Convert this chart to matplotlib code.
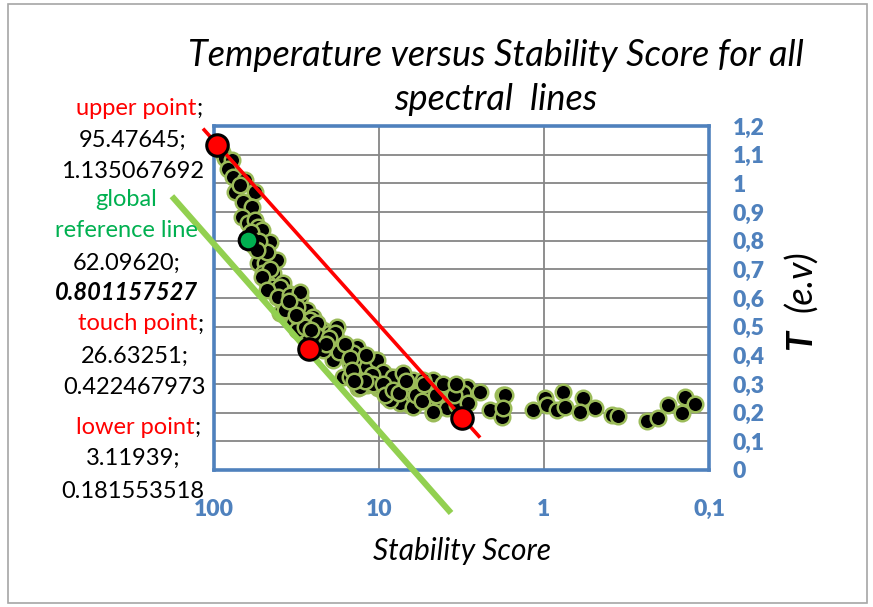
import matplotlib
matplotlib.use('Agg')
import matplotlib.pyplot as plt
from matplotlib.patches import Rectangle

plt.rcParams['font.family'] = ['Lato', 'DejaVu Sans']

# ---------------- data ----------------
stability = [89.4, 85.8, 77.8, 82.0, 76.7, 64.9, 74.6, 70.0, 56.4, 66.7, 58.9, 67.7,
             62.2, 56.4, 54.1, 51.2, 60.0, 45.8, 52.6, 57.0, 54.1, 49.1, 41.5, 43.9,
             50.5, 47.7, 38.2, 41.5, 35.6, 33.2, 30.1, 31.4, 27.3, 25.1, 36.1, 46.0,
             44.0, 40.0, 48.0, 53.0, 39.8, 54.9, 51.2, 39.8, 47.7, 40.9, 34.6, 30.1,
             31.4, 37.1, 28.9, 33.2, 23.8, 21.8, 19.8, 18.0, 18.0, 27.3, 26.2, 18.5,
             22.8, 19.0, 16.5, 13.6, 15.0, 12.7, 10.6, 13.6, 11.3, 9.86, 11.8, 13.4,
             10.2, 8.58, 7.78, 6.95, 8.58, 7.46, 6.49, 16.5, 30.1, 23.8, 27.3, 31.4,
             17.2, 20.7, 14.4, 19.0, 13.0, 11.8, 10.3, 15.0, 13.0, 9.86, 8.96, 8.96,
             7.16, 7.78, 6.76, 6.22, 5.65, 5.12, 4.71, 4.91, 4.71, 4.27, 3.87, 3.72,
             3.23, 2.93, 2.93, 2.44, 1.85, 9.46, 8.22, 7.16, 5.41, 5.88, 4.91, 3.72,
             3.10, 1.77, 7.46, 6.22, 4.27, 3.87, 4.71, 3.37, 2.89, 2.12, 8.58, 1.80,
             1.72, 1.77, 1.17, 0.986, 0.96, 0.834, 0.767, 0.75, 0.58, 0.605, 0.49,
             0.388, 0.356, 0.238, 0.204, 0.177, 0.14, 0.146, 0.122,
             28.0, 24.0, 22.0, 20.0, 17.5, 16.0, 15.0, 14.5, 12.0, 11.0, 10.8, 9.5,
             9.2, 8.2, 7.6, 6.9, 6.0, 5.5, 5.3, 4.5, 4.1, 3.5, 3.4, 12.2, 14.2, 35.0,
             32.0, 26.0, 21.0]
temperature = [1.109, 1.088, 1.081, 1.050, 1.022, 1.012, 0.970, 0.995, 0.970, 0.935, 0.917, 0.882,
               0.862, 0.872, 0.848, 0.837, 0.830, 0.795, 0.757, 0.780, 0.722, 0.722, 0.732, 0.687,
               0.687, 0.652, 0.652, 0.603, 0.617, 0.582, 0.603, 0.558, 0.558, 0.534, 0.558, 0.700,
               0.640, 0.620, 0.760, 0.800, 0.548, 0.767, 0.673, 0.638, 0.628, 0.603, 0.610, 0.621,
               0.569, 0.558, 0.523, 0.513, 0.488, 0.488, 0.478, 0.499, 0.453, 0.453, 0.523, 0.478,
               0.453, 0.429, 0.401, 0.429, 0.373, 0.366, 0.384, 0.331, 0.338, 0.314, 0.296, 0.286,
               0.286, 0.324, 0.303, 0.296, 0.255, 0.244, 0.227, 0.324, 0.513, 0.513, 0.478, 0.488,
               0.429, 0.429, 0.408, 0.384, 0.373, 0.359, 0.384, 0.324, 0.290, 0.290, 0.324, 0.255,
               0.290, 0.269, 0.255, 0.314, 0.279, 0.290, 0.314, 0.255, 0.199, 0.220, 0.279, 0.234,
               0.269, 0.290, 0.234, 0.272, 0.199, 0.342, 0.324, 0.338, 0.314, 0.269, 0.279, 0.286,
               0.269, 0.262, 0.234, 0.220, 0.244, 0.216, 0.202, 0.227, 0.234, 0.209, 0.244, 0.185,
               0.262, 0.216, 0.209, 0.251, 0.227, 0.209, 0.272, 0.220, 0.251, 0.202, 0.216,
               0.192, 0.188, 0.171, 0.181, 0.227, 0.255, 0.199, 0.230,
               0.500, 0.470, 0.420, 0.460, 0.410, 0.440, 0.390, 0.350, 0.400, 0.330, 0.300, 0.300,
               0.260, 0.280, 0.270, 0.310, 0.260, 0.240, 0.300, 0.260, 0.300, 0.260, 0.300, 0.310, 0.310, 0.590,
               0.540, 0.490, 0.440]

key_names = ['upper point', 'global reference line', 'touch point', 'lower point']
key_x = [95.47645, 62.09620, 26.63251, 3.11939]
key_y = [1.135067692, 0.801157527, 0.422467973, 0.181553518]
key_x_text = ['95.47645;', '62.09620;', '26.63251;', '3.11939;']
key_y_text = ['1.135067692', '0.801157527', '0.422467973', '0.181553518']

red_line_x = [116.6, 2.44]
red_line_y = [1.191, 0.113]
green_line_x = [180.0, 3.66]
green_line_y = [0.955, -0.15]

x_ticks = [100, 10, 1, 0.1]
x_tick_labels = ['100', '10', '1', '0,1']
y_ticks = [0, 0.1, 0.2, 0.3, 0.4, 0.5, 0.6, 0.7, 0.8, 0.9, 1.0, 1.1, 1.2]
y_tick_labels = ['0', '0,1', '0,2', '0,3', '0,4', '0,5', '0,6', '0,7', '0,8', '0,9', '1', '1,1', '1,2']

title_lines = ['Temperature versus Stability Score for all', 'spectral  lines']
x_label = 'Stability Score'

# ---------------- figure ----------------
W, H = 873, 607
fig = plt.figure(figsize=(W / 100, H / 100), dpi=100)
fig.patch.set_facecolor('white')
fig.add_artist(Rectangle((8 / W, 4 / H), (W - 14) / W, (H - 8) / H, transform=fig.transFigure,
                         fill=False, edgecolor='#A6A6A6', lw=1.2))

ax = fig.add_axes([214 / W, (H - 470) / H, 495 / W, 344 / H])
ax.set_xscale('log')
ax.set_xlim(100, 0.1)
ax.set_ylim(0, 1.2)

ax.set_xticks(x_ticks)
ax.set_xticklabels(x_tick_labels)
ax.xaxis.set_minor_locator(matplotlib.ticker.NullLocator())
ax.set_yticks(y_ticks)
ax.set_yticklabels(y_tick_labels)
ax.yaxis.tick_right()
ax.tick_params(axis='both', length=0, labelsize=16.5, labelcolor='#4F81BD')
ax.tick_params(axis='x', pad=21)
ax.tick_params(axis='y', pad=17)
for lab in ax.get_xticklabels() + ax.get_yticklabels():
    lab.set_fontweight('heavy')
for lab in ax.get_yticklabels():
    lab.set_horizontalalignment('left')

ax.grid(True, color='#868686', lw=1.3)
ax.set_axisbelow(True)
for sp in ax.spines.values():
    sp.set_color('#4F81BD')
    sp.set_linewidth(2.6)

ax.scatter(stability, temperature, s=125, c='black', edgecolors='#9BBB59', linewidths=1.8, zorder=3)

ax.plot(red_line_x, red_line_y, color='#FF0000', lw=2.6, zorder=4, clip_on=False, solid_capstyle='butt')
ax.plot(green_line_x, green_line_y, color='#92D050', lw=4.4, zorder=4, clip_on=False, solid_capstyle='butt')

for i in range(len(key_x)):
    fc = '#00B050' if i == 1 else '#FF0000'
    sz = 180 if i == 1 else 240
    ax.scatter([key_x[i]], [key_y[i]], s=sz, c=fc, edgecolors='black', linewidths=2.2,
               zorder=5, clip_on=False)

# titles / labels
fig.text(496 / W, 1 - 55 / H, title_lines[0], ha='center', va='center', fontsize=26, style='italic')
fig.text(496 / W, 1 - 100 / H, title_lines[1], ha='center', va='center', fontsize=26, style='italic')
fig.text(462 / W, 1 - 551 / H, x_label, ha='center', va='center', fontsize=21.5, style='italic')
fig.text(801 / W, 1 - 340 / H, 'T', ha='center', va='center', fontsize=26, style='italic',
         fontweight='bold', rotation=90)
fig.text(801 / W, 1 - 281 / H, '(e.v)', ha='center', va='center', fontsize=26, style='italic',
         rotation=90)

# left annotation block
fs = 17
def ytxt(py):
    return 1 - py / H

red_c = '#FF0000'
grn_c = '#00B050'
# upper point
fig.text(196 / W, ytxt(108), key_names[0], color=red_c, ha='right', va='center', fontsize=fs)
fig.text(196 / W, ytxt(108), ';', color='black', ha='left', va='center', fontsize=fs)
fig.text(133 / W, ytxt(140), key_x_text[0], ha='center', va='center', fontsize=fs)
fig.text(133 / W, ytxt(172), key_y_text[0], ha='center', va='center', fontsize=fs)
# global reference line
fig.text(126 / W, ytxt(200), 'global', color=grn_c, ha='center', va='center', fontsize=fs)
fig.text(126 / W, ytxt(231), 'reference line', color=grn_c, ha='center', va='center', fontsize=fs)
fig.text(127 / W, ytxt(263), key_x_text[1], ha='center', va='center', fontsize=fs)
fig.text(126 / W, ytxt(292), key_y_text[1], ha='center', va='center', fontsize=fs,
         fontweight='bold', style='italic')
# touch point
fig.text(197 / W, ytxt(324), key_names[2], color=red_c, ha='right', va='center', fontsize=fs)
fig.text(197 / W, ytxt(324), ';', color='black', ha='left', va='center', fontsize=fs)
fig.text(135 / W, ytxt(356), key_x_text[2], ha='center', va='center', fontsize=fs)
fig.text(134 / W, ytxt(387), key_y_text[2], ha='center', va='center', fontsize=fs)
# lower point
fig.text(194 / W, ytxt(427), key_names[3], color=red_c, ha='right', va='center', fontsize=fs)
fig.text(194 / W, ytxt(427), ';', color='black', ha='left', va='center', fontsize=fs)
fig.text(133 / W, ytxt(458), key_x_text[3], ha='center', va='center', fontsize=fs)
fig.text(133 / W, ytxt(492), key_y_text[3], ha='center', va='center', fontsize=fs)

fig.savefig('out.png', dpi=100)
